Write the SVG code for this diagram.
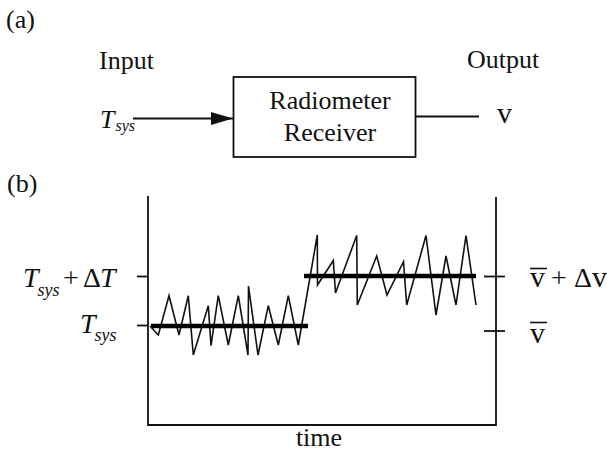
<svg xmlns="http://www.w3.org/2000/svg" width="607" height="452" viewBox="0 0 607 452">
<style>
text{font-family:'Liberation Serif','DejaVu Serif','Noto Serif',serif;fill:#111}
.lbl{font-size:26px}
.it{font-style:italic}
.ln{stroke:#111;stroke-width:1.8;fill:none}
.thick{stroke:#000;stroke-width:4.5;fill:none}
.noise{stroke:#111;stroke-width:1.6;fill:none;stroke-linejoin:miter}
</style>
<defs>
<marker id="ah" markerWidth="22" markerHeight="13" refX="22" refY="6.5" orient="auto" markerUnits="userSpaceOnUse">
<path d="M0,0 L22,6.5 L0,13 Z" fill="#111"/>
</marker>
</defs>

<g id="panel-a-label"><text class="lbl" x="6" y="28">(a)</text></g>
<g id="input-label"><text class="lbl" x="99" y="69">Input</text></g>
<g id="output-label"><text class="lbl" x="467" y="68">Output</text></g>

<g id="tsys-input">
<text class="it" font-size="26" x="100" y="128">T<tspan font-size="16" dx="1" dy="3">sys</tspan></text>
</g>

<g id="receiver">
<rect x="233.5" y="77" width="182" height="80" class="ln"/>
<text class="lbl" x="330" y="109" text-anchor="middle">Radiometer</text>
<text class="lbl" x="330" y="141" text-anchor="middle">Receiver</text>
</g>

<g id="output-v"><text font-size="30" x="497" y="123">v</text></g>

<g id="connectors">
<line x1="133" y1="118.5" x2="233" y2="118.5" class="ln" marker-end="url(#ah)"/>
<line x1="416" y1="116.5" x2="479" y2="116.5" class="ln"/>
</g>

<g id="panel-b-label"><text class="lbl" x="7" y="192">(b)</text></g>

<g id="plot">
<polyline points="148,196 148,425 496,425 496,197" class="ln"/>
<line x1="137" y1="276.5" x2="148" y2="276.5" class="ln"/>
<line x1="137" y1="325.5" x2="148" y2="325.5" class="ln"/>
<line x1="484" y1="276.5" x2="505" y2="276.5" class="ln"/>
<line x1="484" y1="331" x2="505" y2="331" class="ln"/>
<polyline class="noise" points="150,326 158.3,335 169,295.7 179,335 188.3,295.7 193.3,355 208.3,305.7 211,345.7 218.3,295.7 228.3,345 238.3,295.7 248,355 248.5,286 258,355 268.3,305.7 278.3,345 288.3,295.7 298.3,345 317.3,235 317.5,285 333.3,260.5 335.5,293 356.7,235.5 357.3,305 376.7,256 387,295 403.5,261.7 406.7,305 426,235.5 436,315 446,256 456,305 466,235.5 476,305"/>
<line x1="151" y1="326" x2="308" y2="326" class="thick"/>
<line x1="304" y1="276" x2="476" y2="276" class="thick"/>
</g>

<g id="left-labels">
<text class="it" font-size="28" x="23" y="287">T<tspan font-size="18" dx="-1" dy="9">sys</tspan></text>
<text font-size="28" x="71" y="287" text-anchor="middle">+</text>
<text font-size="28" x="83" y="287">Δ</text>
<text class="it" font-size="28" x="100" y="287">T</text>
<text class="it" font-size="28" x="80" y="333">T<tspan font-size="18" dx="-1" dy="8">sys</tspan></text>
</g>

<g id="right-labels">
<line x1="530" y1="268.5" x2="547" y2="268.5" stroke="#111" stroke-width="1.6"/>
<text font-size="30" x="530" y="287">v</text>
<text font-size="28" x="559" y="287" text-anchor="middle">+</text>
<text font-size="28" x="574" y="287">Δ</text>
<text font-size="30" x="592" y="287">v</text>
<line x1="530" y1="322.5" x2="547" y2="322.5" stroke="#111" stroke-width="1.6"/>
<text font-size="30" x="530" y="343">v</text>
</g>

<g id="time-label"><text class="lbl" x="319" y="446" text-anchor="middle">time</text></g>
</svg>
